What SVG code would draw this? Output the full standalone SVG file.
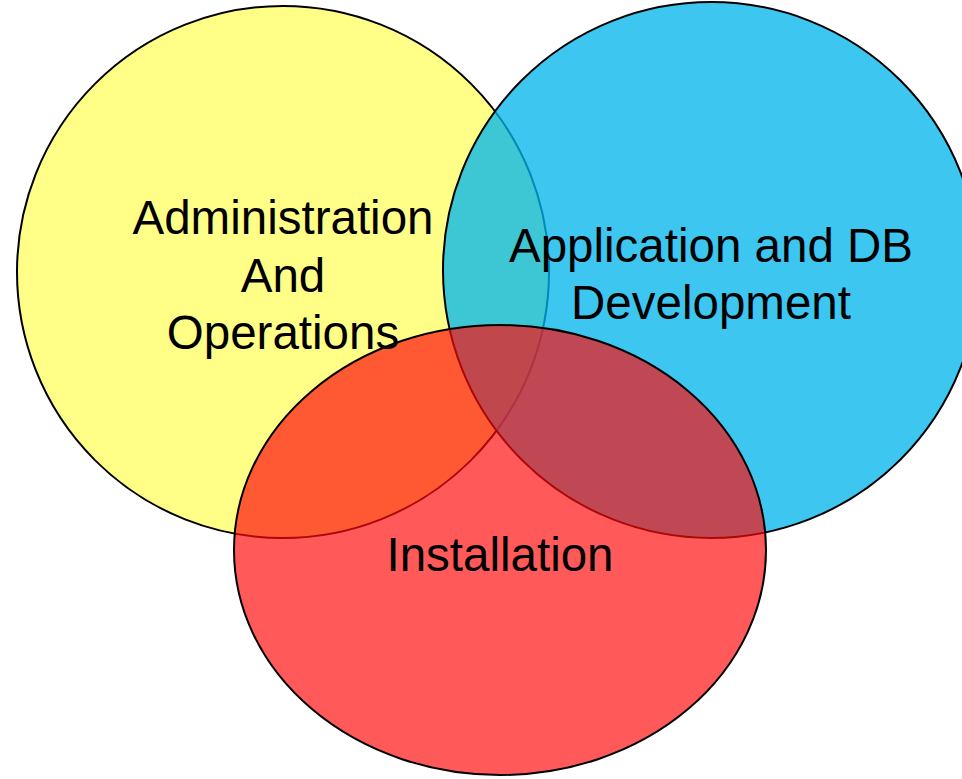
<svg xmlns="http://www.w3.org/2000/svg" width="962" height="779" viewBox="0 0 962 779">
<style>
.c{stroke:#000;stroke-width:2}
.t{font-family:"Liberation Sans",Arial,sans-serif;font-size:47.5px;fill:#000;text-anchor:middle}
</style>
<rect width="962" height="779" fill="#fff"/>
<g id="admin">
<circle class="c" cx="283" cy="272" r="266" fill="#ffff88"/>
</g>
<g id="appdev">
<circle class="c" cx="711" cy="270" r="268" fill="#00b4eb" fill-opacity="0.76"/>
</g>
<g id="install">
<ellipse class="c" cx="500" cy="550" rx="266" ry="225" fill="#ff0a0a" fill-opacity="0.68"/>
</g>
<g id="connectors"></g>
<g id="labels">
<text class="t" x="283" y="234">Administration</text>
<text class="t" x="283" y="292">And</text>
<text class="t" x="283" y="349">Operations</text>
<text class="t" x="711" y="262">Application and DB</text>
<text class="t" x="711" y="319">Development</text>
<text class="t" x="500" y="571">Installation</text>
</g>
</svg>
